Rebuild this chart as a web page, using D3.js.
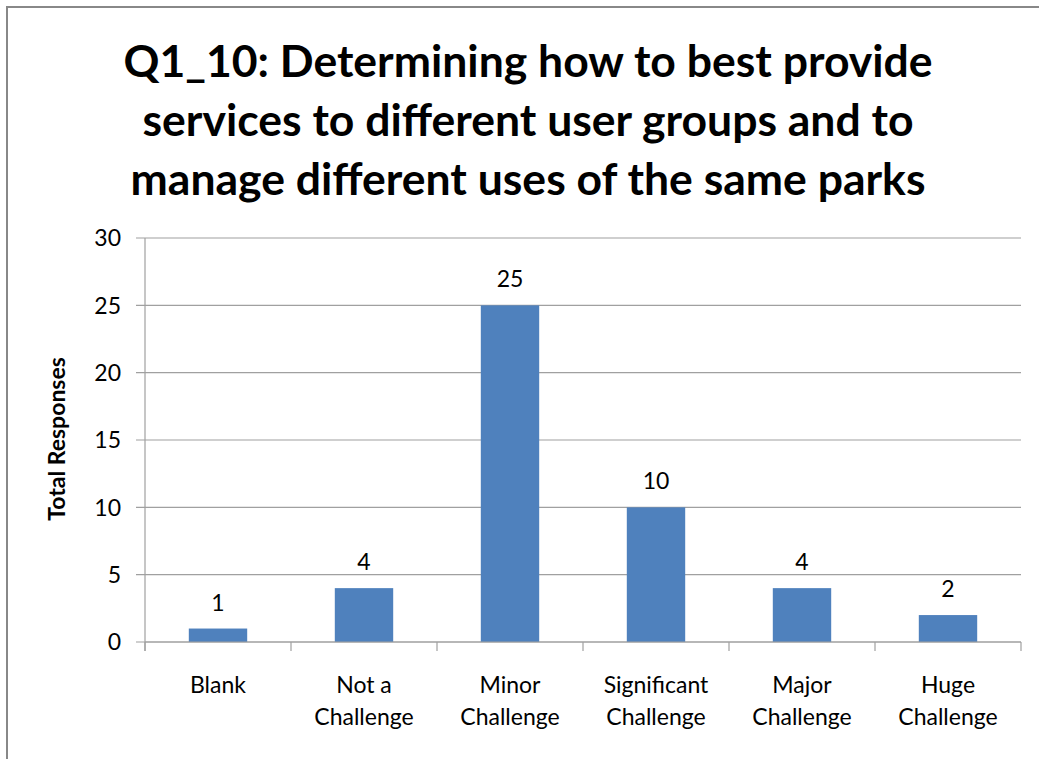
<!DOCTYPE html>
<html>
<head>
<meta charset="utf-8">
<script src="https://cdn.jsdelivr.net/npm/d3@7"></script>
<style>
  body { margin: 0; background: #fff; }
  svg { display: block; font-family: Lato, "Liberation Sans", sans-serif; }
</style>
</head>
<body>
<svg id="chart"></svg>
<script>
const width = 1039;
const height = 759;

const titleLines = [
    "Q1_10: Determining how to best provide",
    "services to different user groups and to",
    "manage different uses of the same parks"
];
const categories = [
    ["Blank"],
    ["Not a", "Challenge"],
    ["Minor", "Challenge"],
    ["Significant", "Challenge"],
    ["Major", "Challenge"],
    ["Huge", "Challenge"]
];
const values = [1, 4, 25, 10, 4, 2];
const yTicks = [0, 5, 10, 15, 20, 25, 30];
const yTitle = "Total Responses";

const margin = { left: 145, right: 1021, top: 238, bottom: 642 };

const svg = d3.select("#chart")
    .attr("width", width)
    .attr("height", height);

// outer chart border
svg.append("rect")
    .attr("x", 7)
    .attr("y", 7)
    .attr("width", 1050)
    .attr("height", 770)
    .attr("fill", "#fff")
    .attr("stroke", "#888")
    .attr("stroke-width", 2);

// title
svg.append("text")
    .attr("text-anchor", "middle")
    .attr("font-weight", "bold")
    .attr("font-size", 44.5)
    .attr("fill", "#000")
    .selectAll("tspan")
    .data(titleLines)
    .enter()
    .append("tspan")
    .attr("x", 528)
    .attr("y", (d, i) => 77 + i * 59)
    .text(d => d);

const x = d3.scaleBand()
    .domain(d3.range(categories.length))
    .range([margin.left, margin.right])
    .paddingInner(0.6)
    .paddingOuter(0.3);

const y = d3.scaleLinear()
    .domain([0, 30])
    .range([margin.bottom, margin.top]);

// gridlines
svg.append("g")
    .selectAll("line")
    .data(yTicks)
    .enter()
    .append("line")
    .attr("x1", margin.left - 9)
    .attr("x2", margin.right)
    .attr("y1", d => y(d))
    .attr("y2", d => y(d))
    .attr("stroke", "#a0a0a0")
    .attr("stroke-width", 1.2);

// y tick labels
svg.append("g")
    .selectAll("text")
    .data(yTicks)
    .enter()
    .append("text")
    .attr("x", 121)
    .attr("y", d => y(d))
    .attr("dy", "0.36em")
    .attr("text-anchor", "end")
    .attr("font-size", 23)
    .attr("fill", "#000")
    .text(d => d);

// bars
svg.append("g")
    .selectAll("rect")
    .data(values)
    .enter()
    .append("rect")
    .attr("x", (d, i) => x(i))
    .attr("y", d => y(d))
    .attr("width", x.bandwidth())
    .attr("height", d => y(0) - y(d))
    .attr("fill", "#4f81bd");

// value labels
svg.append("g")
    .selectAll("text")
    .data(values)
    .enter()
    .append("text")
    .attr("x", (d, i) => x(i) + x.bandwidth() / 2)
    .attr("y", d => y(d) - 18)
    .attr("text-anchor", "middle")
    .attr("font-size", 23)
    .attr("fill", "#000")
    .text(d => d);

// axes lines
const step = x.step();
svg.append("line")
    .attr("x1", margin.left).attr("x2", margin.left)
    .attr("y1", margin.top).attr("y2", margin.bottom + 9)
    .attr("stroke", "#a0a0a0").attr("stroke-width", 1.2);
svg.append("line")
    .attr("x1", margin.left).attr("x2", margin.right)
    .attr("y1", margin.bottom).attr("y2", margin.bottom)
    .attr("stroke", "#a0a0a0").attr("stroke-width", 1.2);
svg.append("g")
    .selectAll("line")
    .data(d3.range(categories.length + 1))
    .enter()
    .append("line")
    .attr("x1", i => margin.left + i * step)
    .attr("x2", i => margin.left + i * step)
    .attr("y1", margin.bottom)
    .attr("y2", margin.bottom + 9)
    .attr("stroke", "#a0a0a0")
    .attr("stroke-width", 1.2);

// category labels
svg.append("g")
    .selectAll("text")
    .data(categories)
    .enter()
    .append("text")
    .attr("text-anchor", "middle")
    .attr("font-size", 23)
    .attr("fill", "#000")
    .each(function(lines, i) {
        d3.select(this).selectAll("tspan")
            .data(lines)
            .enter()
            .append("tspan")
            .attr("x", x(i) + x.bandwidth() / 2)
            .attr("y", (d, j) => 693 + j * 32)
            .text(d => d);
    });

// y axis title
svg.append("text")
    .attr("transform", "translate(65,439) rotate(-90)")
    .attr("text-anchor", "middle")
    .attr("font-weight", "bold")
    .attr("font-size", 23)
    .attr("fill", "#000")
    .text(yTitle);
</script>
</body>
</html>
